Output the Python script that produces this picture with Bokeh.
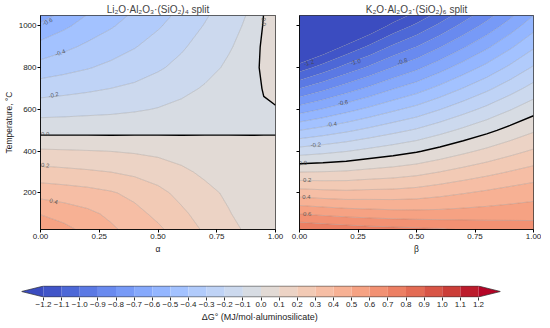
import numpy as np
from bokeh.plotting import figure
from bokeh.layouts import column, row
from bokeh.models import FixedTicker, PrintfTickFormatter, CustomJSTickFormatter
from bokeh.core.properties import value
from bokeh.embed import file_html
from bokeh.resources import INLINE

# ---------------- data ----------------
temp_C = [25, 100, 200, 300, 400, 500, 600, 700, 800, 900, 1000, 1050]

alpha = [0.0, 0.1, 0.2, 0.3, 0.4, 0.5, 0.6, 0.7, 0.8, 0.9, 0.95, 1.0]
dG_li = [
    [0.59, 0.529, 0.471, 0.416, 0.366, 0.317, 0.254, 0.186, 0.129, 0.075, 0.05, 0.025],
    [0.495, 0.458, 0.423, 0.38, 0.33, 0.277, 0.218, 0.161, 0.106, 0.06, 0.04, 0.02],
    [0.362, 0.349, 0.333, 0.31, 0.274, 0.226, 0.173, 0.125, 0.085, 0.045, 0.03, 0.015],
    [0.235, 0.224, 0.213, 0.2, 0.179, 0.153, 0.118, 0.083, 0.056, 0.031, 0.02, 0.01],
    [0.115, 0.11, 0.105, 0.099, 0.09, 0.078, 0.062, 0.045, 0.03, 0.016, 0.01, 0.005],
    [-0.034, -0.033, -0.0315, -0.03, -0.027, -0.023, -0.019, -0.0135, -0.009, -0.005, -0.003, -0.0015],
    [-0.143, -0.137, -0.129, -0.122, -0.11, -0.095, -0.076, -0.055, -0.036, -0.02, -0.01, -0.003],
    [-0.246, -0.231, -0.216, -0.199, -0.18, -0.153, -0.123, -0.091, -0.062, -0.033, 0.006, 0.012],
    [-0.36, -0.333, -0.306, -0.277, -0.248, -0.212, -0.173, -0.128, -0.086, -0.047, 0.03, 0.03],
    [-0.465, -0.423, -0.381, -0.344, -0.305, -0.26, -0.212, -0.16, -0.109, -0.06, 0.026, 0.04],
    [-0.58, -0.519, -0.458, -0.409, -0.36, -0.31, -0.255, -0.194, -0.133, -0.075, 0.008, 0.04],
    [-0.64, -0.57, -0.495, -0.439, -0.384, -0.333, -0.275, -0.211, -0.147, -0.083, 0.002, 0.04],
]

beta = [0.0, 0.1, 0.2, 0.3, 0.4, 0.5, 0.6, 0.7, 0.8, 0.9, 1.0]
dG_k = [
    [0.788, 0.77, 0.755, 0.74, 0.73, 0.72, 0.71, 0.695, 0.68, 0.67, 0.66],
    [0.6, 0.58, 0.562, 0.55, 0.54, 0.535, 0.535, 0.54, 0.545, 0.55, 0.555],
    [0.35, 0.336, 0.327, 0.333, 0.335, 0.347, 0.37, 0.395, 0.419, 0.443, 0.463],
    [0.1, 0.104, 0.112, 0.131, 0.147, 0.169, 0.202, 0.237, 0.271, 0.306, 0.338],
    [-0.15, -0.128, -0.103, -0.071, -0.041, -0.009, 0.034, 0.079, 0.123, 0.169, 0.213],
    [-0.4, -0.36, -0.318, -0.273, -0.229, -0.187, -0.134, -0.079, -0.025, 0.032, 0.088],
    [-0.65, -0.592, -0.533, -0.475, -0.417, -0.365, -0.302, -0.237, -0.173, -0.105, -0.038],
    [-0.9, -0.824, -0.748, -0.677, -0.605, -0.543, -0.47, -0.395, -0.321, -0.242, -0.163],
    [-1.15, -1.056, -0.963, -0.879, -0.793, -0.721, -0.638, -0.553, -0.469, -0.379, -0.288],
    [-1.4, -1.288, -1.178, -1.081, -0.981, -0.899, -0.806, -0.711, -0.617, -0.516, -0.413],
    [-1.65, -1.52, -1.393, -1.283, -1.169, -1.077, -0.974, -0.869, -0.765, -0.653, -0.538],
    [-1.775, -1.636, -1.501, -1.384, -1.263, -1.166, -1.058, -0.948, -0.839, -0.722, -0.6],
]

levels = [-1.2, -1.1, -1.0, -0.9, -0.8, -0.7, -0.6, -0.5, -0.4, -0.3, -0.2, -0.1, 0.0,
          0.1, 0.2, 0.3, 0.4, 0.5, 0.6, 0.7, 0.8, 0.9, 1.0, 1.1, 1.2]

x_ticks = [0.0, 0.25, 0.5, 0.75, 1.0]
y_ticks = [200, 400, 600, 800, 1000]

# contour labels (inline labels of the original)
li_lab_a = [0.03, 0.084, 0.056, 0.02, 0.95, 0.02, 0.056]
li_lab_T = [1020, 871, 669, 482, 1020, 332, 160]
li_lab_txt = ["-0.6", "-0.4", "-0.2", "0.0", "0.0", "0.2", "0.4"]
li_lab_ang = [25, 20, 12, 0, -85, -8, -15]

k_lab_b = [0.04, 0.24, 0.44, 0.186, 0.1375, 0.07, 0.014, 0.033, 0.03, 0.033]
k_lab_T = [823, 827, 830, 632, 529, 430, 343, 261, 180, 99]
k_lab_txt = ["-1.2", "-1.0", "-0.8", "-0.6", "-0.4", "-0.2", "0.0", "0.2", "0.4", "0.6"]
k_lab_ang = [15, 15, 18, 8, 5, 4, 2, 0, 0, -2]

# ---------------- coolwarm colormap ----------------
CW_R = [0.2298057, 0.26623388, 0.30386891, 0.342804478, 0.38301334, 0.424369608, 0.46666708,
        0.509635204, 0.552953156, 0.596262162, 0.639176211, 0.681291281, 0.722193294, 0.761464949,
        0.798691636, 0.833466556, 0.865395197, 0.897787179, 0.924127593, 0.944468518, 0.958852946,
        0.96732803, 0.969954137, 0.966811177, 0.958003065, 0.943660866, 0.923944917, 0.89904617,
        0.869186849, 0.834620542, 0.795631745, 0.752534934, 0.705673158]
CW_G = [0.298717966, 0.353094838, 0.406535296, 0.458757618, 0.50941904, 0.558148092, 0.604562568,
        0.648280772, 0.688929332, 0.726149107, 0.759599947, 0.788964712, 0.813952739, 0.834302879,
        0.849786142, 0.860207984, 0.86541021, 0.848937047, 0.827384882, 0.800927443, 0.769767752,
        0.734132809, 0.694266682, 0.650421156, 0.602842431, 0.551750968, 0.49730856, 0.439559467,
        0.378313092, 0.312874446, 0.24128379, 0.157246067, 0.01555616]
CW_B = [0.753683153, 0.801466763, 0.84495867, 0.883725899, 0.917387822, 0.945619588, 0.968154911,
        0.98478814, 0.995375608, 0.999836203, 0.998151185, 0.990363227, 0.976574709, 0.956945269,
        0.931688648, 0.901068838, 0.865395561, 0.820880546, 0.774508472, 0.726736146, 0.678244332,
        0.628751763, 0.579375448, 0.530263762, 0.481775914, 0.434243684, 0.387970225, 0.343229596,
        0.300267182, 0.259301199, 0.220525627, 0.184115123, 0.150232812]
_xs = np.linspace(0, 1, len(CW_R))


def coolwarm(t):
    r = np.interp(t, _xs, CW_R)
    g = np.interp(t, _xs, CW_G)
    b = np.interp(t, _xs, CW_B)
    return "#%02x%02x%02x" % (int(round(r * 255)), int(round(g * 255)), int(round(b * 255)))


lev = np.array(levels)
lo, hi = lev[0], lev[-1]
mids = (lev[:-1] + lev[1:]) / 2
band_colors = [coolwarm((m - lo) / (hi - lo)) for m in mids]
under_color = coolwarm(0.0)
over_color = coolwarm(1.0)

lev_ext = [-3.0] + levels + [3.0]
fills = [under_color] + band_colors + [over_color]
line_cols, line_wids, line_alps = [], [], []
for i, l in enumerate(lev_ext):
    if i == 0 or i == len(lev_ext) - 1:
        line_cols.append("#808080"); line_wids.append(0.5); line_alps.append(0.0)
    elif abs(l) < 1e-9:
        line_cols.append("black"); line_wids.append(1.4); line_alps.append(1.0)
    else:
        line_cols.append("#7a7a7a"); line_wids.append(0.5); line_alps.append(0.55)

FONT = "Liberation Sans"


def panel(title, xs, zz, xlabel, show_ylab, fw, mbl, mbr, lab_x, lab_y, lab_t, lab_a):
    p = figure(frame_width=fw, frame_height=214, x_range=(0, 1), y_range=(25, 1050),
               output_backend="svg", toolbar_location=None, title=title,
               min_border_left=mbl, min_border_right=mbr, min_border_top=0, min_border_bottom=30)
    X, Y = np.meshgrid(np.array(xs), np.array(temp_C, dtype=float))
    p.contour(X, Y, np.array(zz), lev_ext, fill_color=fills, line_color=line_cols,
              line_width=line_wids, line_alpha=line_alps)
    p.text(x=lab_x, y=lab_y, text=lab_t, angle=[np.deg2rad(a) for a in lab_a],
           text_font=value(FONT), text_font_size="6px", text_color="#444444",
           text_alpha=0.85, text_align="center", text_baseline="middle")
    p.grid.visible = False
    p.outline_line_color = "black"
    p.outline_line_width = 0.8
    p.title.align = "center"
    p.title.text_font = FONT
    p.title.text_font_style = "normal"
    p.title.text_font_size = "10px"
    p.title.standoff = 2
    p.xaxis.ticker = FixedTicker(ticks=x_ticks)
    p.xaxis.formatter = PrintfTickFormatter(format="%.2f")
    p.yaxis.ticker = FixedTicker(ticks=y_ticks)
    p.xaxis.axis_label = xlabel
    for ax in (p.xaxis[0], p.yaxis[0]):
        ax.axis_line_color = "black"
        ax.axis_line_width = 0.8
        ax.major_tick_out = 3
        ax.major_tick_in = 0
        ax.minor_tick_line_color = None
        ax.major_tick_line_color = "black"
        ax.major_label_text_font = FONT
        ax.major_label_text_font_size = "8px"
        ax.major_label_text_color = "#222222"
        ax.major_label_standoff = 1
        ax.axis_label_text_font = FONT
        ax.axis_label_text_font_size = "8.5px"
        ax.axis_label_text_font_style = "normal"
        ax.axis_label_text_color = "#222222"
        ax.axis_label_standoff = 2
    if show_ylab:
        p.yaxis.axis_label = "Temperature, °C"
    else:
        p.yaxis.formatter = CustomJSTickFormatter(code="return '';")
        p.yaxis.major_label_standoff = 0
    return p


p1 = panel("Li₂O·Al₂O₃·(SiO₂)₄ split", alpha, dG_li, "α", True, 235, 33, 10,
           li_lab_a, li_lab_T, li_lab_txt, li_lab_ang)
p2 = panel("K₂O·Al₂O₃·(SiO₂)₆ split", beta, dG_k, "β", False, 234, 14, 8,
           k_lab_b, k_lab_T, k_lab_txt, k_lab_ang)

# ---------------- colorbar ----------------
ext = (hi - lo) * 22.0 / 435.0
p3 = figure(frame_width=479, frame_height=12, x_range=(lo - ext, hi + ext), y_range=(-0.05, 1.05),
            output_backend="svg", toolbar_location=None,
            min_border_left=21, min_border_right=34, min_border_top=26, min_border_bottom=0)
p3.quad(left=list(lev[:-1]), right=list(lev[1:]), bottom=0, top=1,
        fill_color=band_colors, line_color=None)
p3.patch(x=[lo, lo - ext, lo], y=[0, 0.5, 1], fill_color=under_color, line_color=None)
p3.patch(x=[hi, hi + ext, hi], y=[0, 0.5, 1], fill_color=over_color, line_color=None)
p3.line(x=[lo, hi, hi + ext, hi, lo, lo - ext, lo], y=[0, 0, 0.5, 1, 1, 0.5, 0],
        line_color="#333333", line_width=0.7)
p3.grid.visible = False
p3.outline_line_color = None
p3.yaxis.visible = False
ax = p3.xaxis[0]
ax.ticker = FixedTicker(ticks=levels)
ax.formatter = CustomJSTickFormatter(code="return (tick < -1e-9 ? '\\u2212' : '') + Math.abs(tick).toFixed(1);")
ax.axis_line_color = None
ax.major_tick_out = 3
ax.major_tick_in = 0
ax.minor_tick_line_color = None
ax.major_tick_line_color = "#333333"
ax.major_label_text_font = FONT
ax.major_label_text_font_size = "8px"
ax.major_label_text_color = "#222222"
ax.major_label_standoff = 1
ax.axis_label = "ΔG°  (MJ/mol·aluminosilicate)"
ax.axis_label_text_font = FONT
ax.axis_label_text_font_size = "9px"
ax.axis_label_text_font_style = "normal"
ax.axis_label_text_color = "#222222"
ax.axis_label_standoff = 2

layout = column(row(p1, p2), p3)
open("out.html", "w").write(file_html(layout, INLINE))
